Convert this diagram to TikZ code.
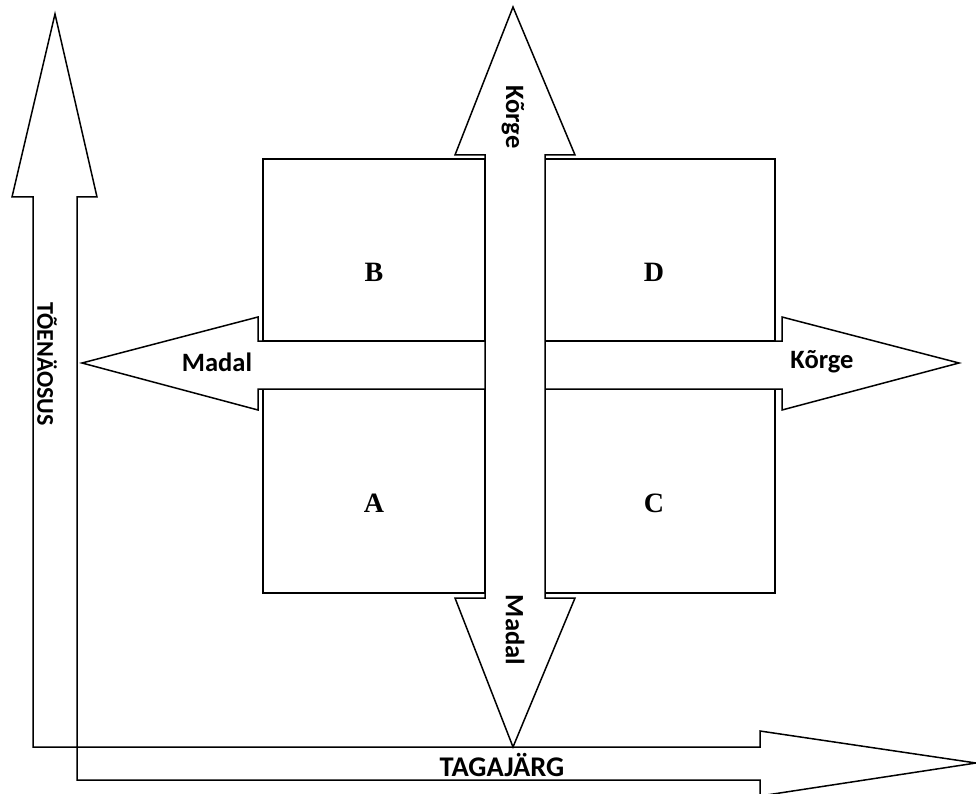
\documentclass[tikz,border=0pt]{standalone}
\usepackage{fontspec}
\setmainfont{Liberation Serif}
\newfontfamily\lblfont{Carlito}
\begin{document}
\begin{tikzpicture}[x=1pt,y=-1pt,
  shapest/.style={draw, fill=white, line width=1.5pt, line join=miter},
  boxline/.style={draw, line width=1.5pt},
  lettertext/.style={font=\fontsize{28}{28}\selectfont\bfseries, inner sep=0},
  labeltext/.style={font=\lblfont\bfseries\fontsize{26.5}{26.5}\selectfont, inner sep=0}]
\useasboundingbox (0,0) rectangle (976,794);
\fill[white] (0,0) rectangle (976,794);

% axes (L-shaped double outline arrow)
\draw[shapest] (33,747) -- (33,197) -- (12,197) -- (55,14) -- (97,197) -- (77,197)
  -- (77,780) -- (760,780) -- (760,796) -- (976,763) -- (760,731) -- (760,747) -- cycle;
\node[labeltext, font=\lblfont\bfseries\fontsize{24}{24}\selectfont, rotate=-90] (yaxis) at (47,364) {TÕENÄOSUS};
\node[labeltext, font=\lblfont\bfseries\fontsize{28.5}{28.5}\selectfont] (xaxis) at (502,765) {TAGAJÄRG};

% quadrant boxes
\draw[boxline] (263,159) rectangle (485,341);
\draw[boxline] (545,159) rectangle (775,341);
\draw[boxline] (263,389) rectangle (485,593);
\draw[boxline] (545,389) rectangle (775,593);

% horizontal double arrow
\draw[shapest] (82,363) -- (258,317) -- (258,341) -- (782,341) -- (782,317) -- (959,363)
  -- (782,410) -- (782,389) -- (258,389) -- (258,410) -- cycle;

% vertical double arrow
\draw[shapest] (513,7) -- (575,155) -- (545,155) -- (545,598) -- (575,598) -- (513,747)
  -- (455,598) -- (485,598) -- (485,155) -- (455,155) -- cycle;

\node[labeltext] (hlow) at (217,362) {Madal};
\node[labeltext] (hhigh) at (822,362) {Kõrge};
\node[labeltext, rotate=-90] (vhigh) at (513,117) {Kõrge};
\node[labeltext, rotate=-90] (vlow) at (515,630) {Madal};

\node[lettertext] (B) at (374,272) {B};
\node[lettertext] (D) at (654,272) {D};
\node[lettertext] (A) at (374,503) {A};
\node[lettertext] (C) at (654,503) {C};
\end{tikzpicture}
\end{document}
